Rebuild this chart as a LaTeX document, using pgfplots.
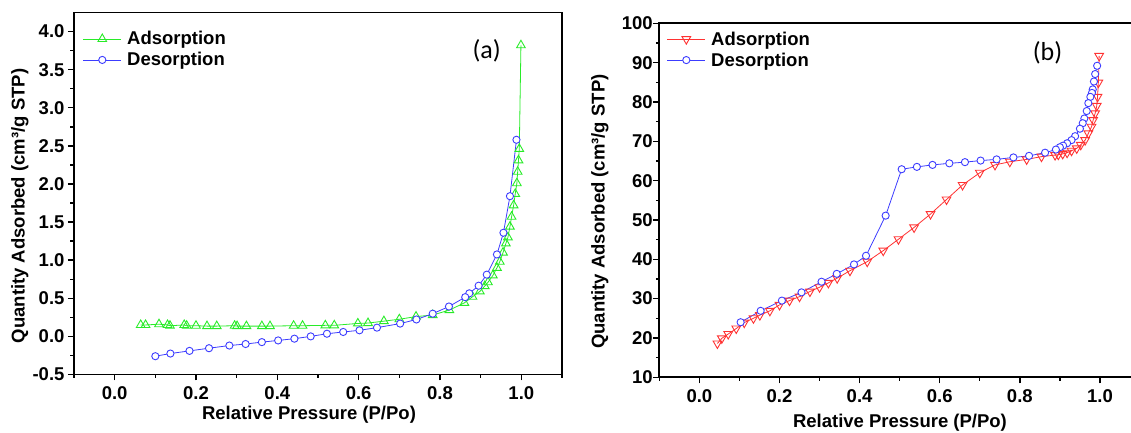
\documentclass[border=0pt]{standalone}
\usepackage{fontspec}
\setmainfont{Liberation Sans}
\newfontfamily\calibri{Carlito}
\usepackage{pgfplots}
\pgfplotsset{compat=1.18}
\definecolor{cg}{RGB}{40,235,40}
\definecolor{cb}{RGB}{60,60,255}
\definecolor{cr}{RGB}{255,50,50}
\newcommand{\fs}{\fontsize{18.5}{21}\selectfont\bfseries}
\pgfplotsset{
  myaxis/.style={
    scale only axis,
    axis line style={line width=1.8pt},
    tick pos=left, tick align=outside,
    major tick length=6pt, minor tick length=3.5pt,
    every tick/.style={line width=1.4pt, black},
    ticklabel style={font=\fs},
    label style={font=\fs},
    legend style={draw=none, fill=none, font=\fs, inner sep=0pt, row sep=3pt,
      nodes={inner sep=1.5pt}, column sep=4pt},
    legend cell align=left,
    legend image code/.code={%
      \draw[mark repeat=2,mark phase=2,##1] plot coordinates {(0pt,0pt) (19pt,0pt) (38pt,0pt)};},
  }
}
\begin{document}
\begin{tikzpicture}[x=1pt,y=1pt]
\useasboundingbox (0,0) rectangle (1131,433);
\clip (0,0) rectangle (1131,433);
% ---------------- (a)
\begin{axis}[myaxis, at={(74pt,58.5pt)}, anchor=south west,
  width=488pt, height=362pt,
  xmin=-0.1, xmax=1.1, ymin=-0.5, ymax=4.25,
  xtick={0,0.2,0.4,0.6,0.8,1.0},
  xticklabels={0.0,0.2,0.4,0.6,0.8,1.0},
  minor xtick={-0.1,0.1,0.3,0.5,0.7,0.9,1.1},
  ytick={-0.5,0,0.5,1,1.5,2,2.5,3,3.5,4},
  yticklabels={-0.5,0.0,0.5,1.0,1.5,2.0,2.5,3.0,3.5,4.0},
  minor ytick={-0.25,0.25,0.75,1.25,1.75,2.25,2.75,3.25,3.75},
  xticklabel style={yshift=-3pt},
  xlabel={Relative Pressure (P/Po)},
  ylabel={Quantity Adsorbed (cm³/g STP)},
  xlabel style={at={(axis description cs:0.4816,-0.112)}, anchor=center},
  ylabel style={at={(axis description cs:-0.1107,0.4655)}, anchor=center},
  legend style={at={(axis description cs:0.0178,0.952)}, anchor=north west},
]
\addplot[cg, line width=0.8pt, mark=triangle, mark size=5pt,
  mark options={solid, fill=white, line width=0.9pt}] table {
0.064 0.15
0.076 0.15
0.109 0.16
0.130 0.15
0.136 0.14
0.171 0.15
0.177 0.14
0.200 0.14
0.227 0.135
0.251 0.135
0.295 0.14
0.301 0.135
0.324 0.135
0.362 0.135
0.382 0.135
0.440 0.14
0.462 0.14
0.518 0.145
0.540 0.145
0.598 0.17
0.623 0.175
0.662 0.20
0.700 0.225
0.741 0.26
0.782 0.28
0.823 0.345
0.860 0.44
0.880 0.52
0.898 0.59
0.910 0.66
0.918 0.71
0.930 0.80
0.940 0.90
0.947 0.98
0.955 1.10
0.962 1.22
0.967 1.30
0.972 1.44
0.976 1.57
0.981 1.72
0.985 1.87
0.989 2.01
0.991 2.16
0.993 2.31
0.995 2.46
0.999 3.82
};
\addlegendentry{Adsorption}
\addplot[cb, line width=0.8pt, mark=*, mark size=3.6pt,
  mark options={solid, fill=white, line width=0.9pt}] table {
0.988 2.58
0.972 1.84
0.956 1.36
0.940 1.075
0.915 0.81
0.895 0.665
0.872 0.565
0.862 0.515
0.822 0.392
0.782 0.298
0.742 0.222
0.702 0.168
0.645 0.115
0.602 0.08
0.562 0.058
0.522 0.035
0.482 0.0
0.442 -0.03
0.402 -0.053
0.362 -0.075
0.322 -0.10
0.282 -0.12
0.232 -0.155
0.184 -0.19
0.137 -0.225
0.100 -0.26
};
\addlegendentry{Desorption}
\node[font=\calibri\fontsize{26}{28}\selectfont] at (axis description cs:0.8457,0.8936) {(a)};
\end{axis}
% ---------------- (b)
\begin{axis}[myaxis, at={(659.3pt,55.7pt)}, anchor=south west,
  width=480.7pt, height=354pt,
  xmin=-0.1, xmax=1.1, ymin=10, ymax=100,
  xtick={0,0.2,0.4,0.6,0.8,1.0},
  xticklabels={0.0,0.2,0.4,0.6,0.8,1.0},
  minor xtick={-0.1,0.1,0.3,0.5,0.7,0.9,1.1},
  ytick={10,20,30,40,50,60,70,80,90,100},
  yticklabels={10,20,30,40,50,60,70,80,90,100},
  minor ytick={15,25,35,45,55,65,75,85,95},
  xticklabel style={yshift=-3pt},
  yticklabel style={xshift=3pt},
  xlabel={Relative Pressure (P/Po)},
  ylabel={Quantity Adsorbed (cm³/g STP)},
  xlabel style={at={(axis description cs:0.5007,-0.129)}, anchor=center},
  ylabel style={at={(axis description cs:-0.1234,0.468)}, anchor=center},
  legend style={at={(axis description cs:0.0154,0.981)}, anchor=north west},
]
\addplot[cr, line width=0.8pt, mark=triangle, mark size=5pt,
  mark options={solid, fill=white, line width=0.9pt, rotate=180}] table {
0.045 18.6
0.056 19.9
0.072 21.0
0.092 22.4
0.112 23.9
0.135 25.0
0.151 25.8
0.176 26.9
0.200 28.4
0.225 29.5
0.250 30.5
0.276 31.8
0.300 32.9
0.322 34.0
0.344 35.2
0.376 37.1
0.419 39.4
0.459 42.2
0.497 45.1
0.536 48.1
0.577 51.5
0.617 55.2
0.657 58.9
0.700 62.0
0.738 64.0
0.775 64.8
0.817 65.4
0.854 66.1
0.888 66.5
0.896 66.6
0.907 66.8
0.918 67.1
0.929 67.6
0.942 68.2
0.952 69.1
0.963 70.3
0.971 72.0
0.979 73.7
0.983 75.4
0.988 77.1
0.992 79.0
0.994 81.3
0.996 84.9
0.998 91.7
};
\addlegendentry{Adsorption}
\addplot[cb, line width=0.8pt, mark=*, mark size=3.6pt,
  mark options={solid, fill=white, line width=0.9pt}] table {
0.993 89.2
0.988 87.1
0.985 85.2
0.982 83.2
0.980 82.3
0.976 81.3
0.971 79.7
0.967 77.7
0.961 75.8
0.957 74.6
0.950 73.2
0.938 71.3
0.929 70.3
0.918 69.5
0.908 68.9
0.900 68.5
0.890 67.9
0.863 67.1
0.823 66.3
0.784 65.9
0.742 65.4
0.702 65.1
0.663 64.7
0.624 64.4
0.582 64.0
0.543 63.5
0.505 62.9
0.465 51.1
0.416 40.9
0.386 38.7
0.343 36.3
0.305 34.3
0.255 31.6
0.206 29.5
0.153 26.9
0.103 24.0
};
\addlegendentry{Desorption}
\node[font=\calibri\fontsize{26}{28}\selectfont] at (axis description cs:0.8076,0.916) {(b)};
\end{axis}
\end{tikzpicture}
\end{document}
